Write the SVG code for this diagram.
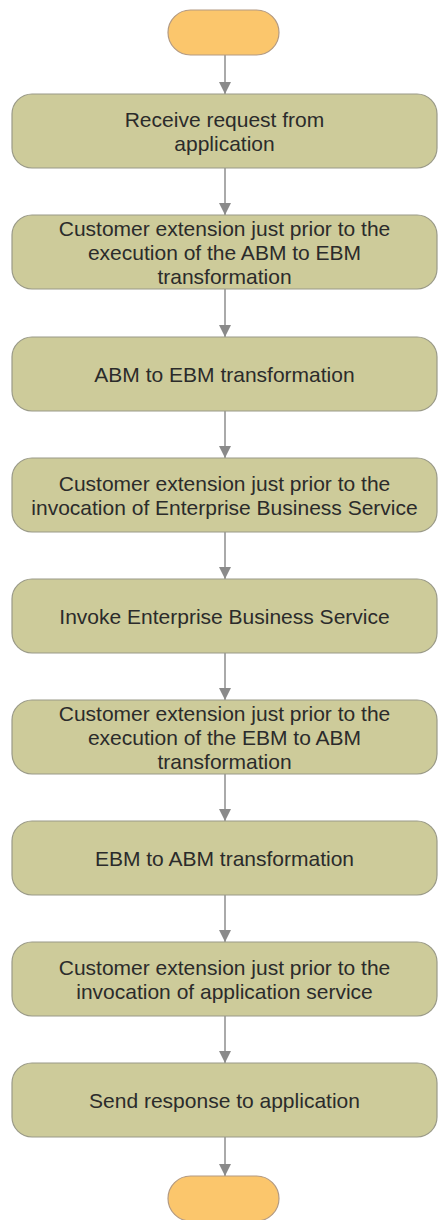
<svg xmlns="http://www.w3.org/2000/svg" width="439" height="1220" viewBox="0 0 439 1220">
<style>
.box{fill:#cdcb9a;stroke:#9a9a88;stroke-width:1.2}
.term{fill:#fbc66c;stroke:#b39a82;stroke-width:1.2}
.t{font-family:"Liberation Sans",Arial,sans-serif;font-size:21px;fill:#2b2b2b;text-anchor:middle}
.c{stroke:#8e8e8e;stroke-width:1.5;fill:none;marker-end:url(#ah)}
</style>
<defs>
<marker id="ah" markerWidth="12" markerHeight="12" viewBox="0 0 12 12" refX="12" refY="6" orient="auto" markerUnits="userSpaceOnUse">
<path d="M0,0 L12,6 L0,12 Z" fill="#8a8a8a"/>
</marker>
</defs>
<rect width="439" height="1220" fill="#ffffff"/>
<g id="connectors">
<line class="c" x1="225" y1="55" x2="225" y2="94"/>
<line class="c" x1="225" y1="168" x2="225" y2="215"/>
<line class="c" x1="225" y1="289" x2="225" y2="337"/>
<line class="c" x1="225" y1="411" x2="225" y2="458"/>
<line class="c" x1="225" y1="532" x2="225" y2="579"/>
<line class="c" x1="225" y1="653" x2="225" y2="700"/>
<line class="c" x1="225" y1="774" x2="225" y2="821"/>
<line class="c" x1="225" y1="895" x2="225" y2="942"/>
<line class="c" x1="225" y1="1016" x2="225" y2="1063"/>
<line class="c" x1="225" y1="1137" x2="225" y2="1176"/>
</g>
<g id="start"><rect class="term" x="168" y="10" width="111" height="45" rx="22.5"/></g>
<g id="n1"><rect class="box" x="12" y="94" width="425" height="74" rx="20"/>
<text class="t" x="224.5" y="126.5">Receive request from</text>
<text class="t" x="224.5" y="150.5">application</text></g>
<g id="n2"><rect class="box" x="12" y="215" width="425" height="74" rx="20"/>
<text class="t" x="224.5" y="236">Customer extension just prior to the</text>
<text class="t" x="224.5" y="260">execution of the ABM to EBM</text>
<text class="t" x="224.5" y="284">transformation</text></g>
<g id="n3"><rect class="box" x="12" y="337" width="425" height="74" rx="20"/>
<text class="t" x="224.5" y="381.5">ABM to EBM transformation</text></g>
<g id="n4"><rect class="box" x="12" y="458" width="425" height="74" rx="20"/>
<text class="t" x="224.5" y="490.5">Customer extension just prior to the</text>
<text class="t" x="224.5" y="514.5">invocation of Enterprise Business Service</text></g>
<g id="n5"><rect class="box" x="12" y="579" width="425" height="74" rx="20"/>
<text class="t" x="224.5" y="623.5">Invoke Enterprise Business Service</text></g>
<g id="n6"><rect class="box" x="12" y="700" width="425" height="74" rx="20"/>
<text class="t" x="224.5" y="721">Customer extension just prior to the</text>
<text class="t" x="224.5" y="745">execution of the EBM to ABM</text>
<text class="t" x="224.5" y="769">transformation</text></g>
<g id="n7"><rect class="box" x="12" y="821" width="425" height="74" rx="20"/>
<text class="t" x="224.5" y="865.5">EBM to ABM transformation</text></g>
<g id="n8"><rect class="box" x="12" y="942" width="425" height="74" rx="20"/>
<text class="t" x="224.5" y="974.5">Customer extension just prior to the</text>
<text class="t" x="224.5" y="998.5">invocation of application service</text></g>
<g id="n9"><rect class="box" x="12" y="1063" width="425" height="74" rx="20"/>
<text class="t" x="224.5" y="1107.5">Send response to application</text></g>
<g id="end"><rect class="term" x="168" y="1176" width="111" height="45" rx="22.5"/></g>
</svg>
